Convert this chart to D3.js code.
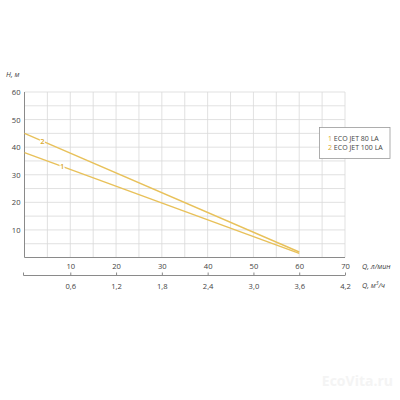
<!DOCTYPE html>
<html><head><meta charset="utf-8">
<script src="https://cdn.jsdelivr.net/npm/d3@7"></script>
<style>body{margin:0;background:#fff}svg{display:block}text{font-family:"Open Sans",sans-serif}</style>
</head><body>
<svg id="c" width="400" height="400"></svg>
<script>
const seriesNames = ["ECO JET 80 LA", "ECO JET 100 LA"];
const seriesLabels = ["1", "2"];
const flowLmin = [0, 60];
const head80 = [38, 1.5];
const head100 = [45, 2];
const xTicks = [10, 20, 30, 40, 50, 60, 70];
const m3Ticks = [0.6, 1.2, 1.8, 2.4, 3.0, 3.6, 4.2];
const yTicks = [10, 20, 30, 40, 50, 60];
const labelPosQ = [8.2, 3.9];

const svg = d3.select("#c");
const x = d3.scaleLinear().domain([0, 70]).range([24.5, 345]);
const x2 = d3.scaleLinear().domain([0, 4.2]).range([24.5, 345]);
const y = d3.scaleLinear().domain([0, 60]).range([257.5, 92]);
const gold = "#e8c15a";
const goldText = "#d9a92e";
const fs = 7.6;

// grid
const g = svg.append("g");
g.selectAll(".gv").data(d3.range(5, 71, 5)).join("line")
  .attr("x1", d => x(d)).attr("x2", d => x(d)).attr("y1", y(0)).attr("y2", y(60))
  .attr("stroke", "#d9d9d9").attr("stroke-width", 0.8);
g.selectAll(".gh").data(d3.range(5, 61, 5)).join("line")
  .attr("x1", x(0)).attr("x2", x(70)).attr("y1", d => y(d)).attr("y2", d => y(d))
  .attr("stroke", "#d9d9d9").attr("stroke-width", 0.8);

// y axis
const ya = svg.append("g").attr("transform", `translate(${x(0)},0)`)
  .call(d3.axisLeft(y).tickValues(yTicks).tickSize(0).tickPadding(4));
ya.select(".domain").attr("stroke", "#8a8a8a").attr("d", `M0,${y(0)}V${y(60)}`);
ya.selectAll("text").attr("font-size", fs).attr("fill", "#444").attr("font-family", "Open Sans");

// x axis 1
const xa = svg.append("g").attr("transform", `translate(0,${y(0)})`)
  .call(d3.axisBottom(x).tickValues(xTicks).tickSize(0).tickPadding(6));
xa.select(".domain").attr("stroke", "#8a8a8a").attr("d", `M${x(0)},0H${x(70)}`);
xa.selectAll("text").attr("font-size", fs).attr("fill", "#444").attr("font-family", "Open Sans");

// x axis 2 (m3/h)
const xb = svg.append("g").attr("transform", `translate(0,275.5)`)
  .call(d3.axisTop(x2).tickValues(m3Ticks).tickSize(3).tickFormat(d => d3.format(".1f")(d).replace(".", ",")));
xb.select(".domain").attr("stroke", "#8a8a8a").attr("d", `M${x2(0) - 1},-3V0H${x2(4.2)}`);
xb.selectAll("line").attr("stroke", "#8a8a8a");
xb.selectAll("text").attr("font-size", fs).attr("fill", "#444").attr("font-family", "Open Sans")
  .attr("y", 11).attr("dy", "0.32em");

// axis titles
svg.append("text").attr("x", 6).attr("y", 77).attr("font-size", 7.2).attr("font-style", "italic")
  .attr("fill", "#444").text("H, м");
svg.append("text").attr("x", 362).attr("y", 268.5).attr("font-size", 7.2).attr("font-style", "italic")
  .attr("fill", "#444").text("Q, л/мин");
const t2 = svg.append("text").attr("x", 362).attr("y", 287.5).attr("font-size", 7.2).attr("font-style", "italic")
  .attr("fill", "#444");
t2.append("tspan").text("Q, м");
t2.append("tspan").attr("font-size", 5).attr("dy", -3).text("3");
t2.append("tspan").attr("dy", 3).text("/ч");

// lines
const data = [head80, head100].map(h => flowLmin.map((q, i) => ({q, h: h[i]})));
const line = d3.line().x(d => x(d.q)).y(d => y(d.h));
svg.selectAll(".ser").data(data).join("path")
  .attr("d", line).attr("fill", "none").attr("stroke", gold).attr("stroke-width", 1.4);

// on-line labels
data.forEach((pts, i) => {
  const q = labelPosQ[i];
  const h = d3.scaleLinear().domain([pts[0].q, pts[1].q]).range([pts[0].h, pts[1].h])(q);
  svg.append("rect").attr("x", x(q) - 2.5).attr("y", y(h) - 4).attr("width", 5).attr("height", 8).attr("fill", "#fff");
  svg.append("text").attr("x", x(q)).attr("y", y(h)).attr("dy", "0.35em").attr("text-anchor", "middle")
    .attr("font-size", 7.5).attr("font-weight", "600").attr("fill", goldText).text(seriesLabels[i]);
});

// legend
const lg = svg.append("g");
lg.append("rect").attr("x", 319.5).attr("y", 127.5).attr("width", 70.5).attr("height", 31)
  .attr("fill", "#fff").attr("stroke", "#9a9a9a").attr("stroke-width", 0.8);
seriesNames.forEach((n, i) => {
  const t = lg.append("text").attr("x", 328).attr("y", 141 + i * 8.5).attr("font-size", 7).attr("fill", "#444");
  t.append("tspan").attr("fill", goldText).text(seriesLabels[i] + " ");
  t.append("tspan").text(n);
});

// watermark
svg.append("text").attr("x", 393).attr("y", 386).attr("text-anchor", "end").attr("font-size", 14)
  .attr("font-weight", "bold").attr("fill", "#f4f4f4").text("EcoVita.ru");
</script>
</body></html>
